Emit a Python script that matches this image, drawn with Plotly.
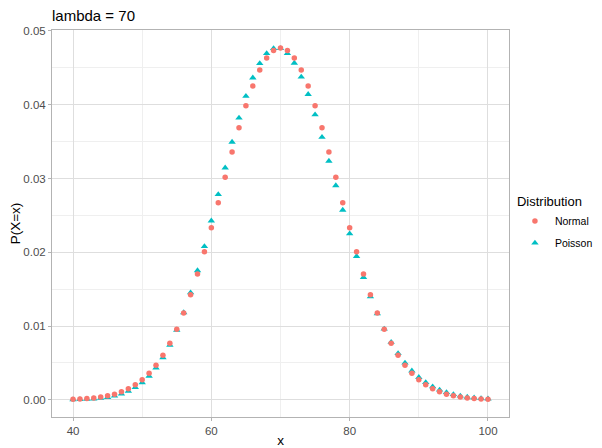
import plotly.graph_objects as go

x_vals = list(range(40, 101))

normal_vals = [
    0.00008, 0.00012, 0.00018, 0.00026, 0.00038, 0.00055, 0.00078, 0.00109, 0.00150, 0.00204,
    0.00274, 0.00362, 0.00471, 0.00605, 0.00766, 0.00956, 0.01176, 0.01426, 0.01705, 0.02009,
    0.02334, 0.02673, 0.03019, 0.03360, 0.03687, 0.03988, 0.04253, 0.04471, 0.04634, 0.04734,
    0.04768,
    0.04734, 0.04634, 0.04471, 0.04253, 0.03988, 0.03687, 0.03360, 0.03019, 0.02673, 0.02334,
    0.02009, 0.01705, 0.01426, 0.01176, 0.00956, 0.00766, 0.00605, 0.00471, 0.00362, 0.00274,
    0.00204, 0.00150, 0.00109, 0.00078, 0.00055, 0.00038, 0.00026, 0.00018, 0.00012, 0.00008,
]

poisson_vals = [
    0.000031, 0.000053, 0.000088, 0.000144, 0.000229, 0.000356, 0.000541, 0.000806, 0.001175, 0.001679,
    0.002351, 0.003227, 0.004344, 0.005737, 0.007437, 0.009465, 0.011831, 0.014529, 0.017535, 0.020804,
    0.024271, 0.027852, 0.031446, 0.034940, 0.038216, 0.041156, 0.043650, 0.045605, 0.046946, 0.047626,
    0.047626,
    0.046955, 0.045651, 0.043775, 0.041409, 0.038648, 0.035597, 0.032361, 0.029042, 0.025733, 0.022517,
    0.019459, 0.016612, 0.014010, 0.011675, 0.009615, 0.007826, 0.006297, 0.005009, 0.003940, 0.003064,
    0.002357, 0.001793, 0.001350, 0.001005, 0.000741, 0.000540, 0.000390, 0.000278, 0.000197, 0.000138,
]

x_ticks = [40, 60, 80, 100]
y_ticks = [0.00, 0.01, 0.02, 0.03, 0.04, 0.05]
y_ticklabels = ["0.00", "0.01", "0.02", "0.03", "0.04", "0.05"]

FONT = "Liberation Sans, Arial, Helvetica, sans-serif"

# page body has an 8px margin, so the figure is slightly smaller than the window
W, H = 594, 440

fig = go.Figure()
fig.add_trace(go.Scatter(
    x=x_vals, y=poisson_vals, mode="markers", name="Poisson", legendgroup="p",
    marker=dict(symbol="triangle-up", size=6.5, color="#00BFC4", line=dict(width=0)),
    legendrank=2,
))
fig.add_trace(go.Scatter(
    x=x_vals, y=normal_vals, mode="markers", name="Normal", legendgroup="n",
    marker=dict(symbol="circle", size=5.5, color="#F8766D", line=dict(width=0)),
    legendrank=1,
))

axis_common = dict(
    showline=True, linecolor="#B3B3B3", linewidth=1, mirror=True,
    ticks="outside", ticklen=3, tickcolor="#B3B3B3", tickwidth=1,
    tickfont=dict(family=FONT, size=11.5, color="#4D4D4D"),
    gridcolor="#DEDEDE", gridwidth=1, zeroline=False, automargin=False,
)

fig.update_layout(
    width=W, height=H,
    margin=dict(l=44, r=93, t=22, b=31, autoexpand=False),
    paper_bgcolor="white", plot_bgcolor="white",
    font=dict(family=FONT, color="black"),
    title=dict(text="lambda = 70", x=0, xanchor="left", xref="paper",
               y=1, yanchor="top", yref="container", pad=dict(t=2, b=0, l=0, r=0),
               font=dict(family=FONT, size=15, color="black")),
    xaxis=dict(range=[36.96, 103.04], tickvals=x_ticks, ticktext=[str(v) for v in x_ticks],
               minor=dict(showgrid=True, gridcolor="#EFEFEF", gridwidth=0.6, tick0=50, dtick=20),
               title=dict(text="x", font=dict(family=FONT, size=13.5, color="black"), standoff=10),
               **axis_common),
    yaxis=dict(range=[-0.00232, 0.05013], tickvals=y_ticks, ticktext=y_ticklabels,
               minor=dict(showgrid=True, gridcolor="#EFEFEF", gridwidth=0.6, tick0=0.005, dtick=0.01),
               title=dict(text="P(X=x)", font=dict(family=FONT, size=13.5, color="black"), standoff=6),
               **axis_common),
    legend=dict(title=dict(text="Distribution", font=dict(family=FONT, size=13, color="black")),
                font=dict(family=FONT, size=10.5, color="black"),
                x=1.013, xanchor="left", y=0.5, yanchor="middle",
                bgcolor="rgba(0,0,0,0)", itemsizing="trace", itemwidth=30, tracegroupgap=3,
                entrywidth=46, entrywidthmode="pixels"),
)

fig.write_html("out.html")
